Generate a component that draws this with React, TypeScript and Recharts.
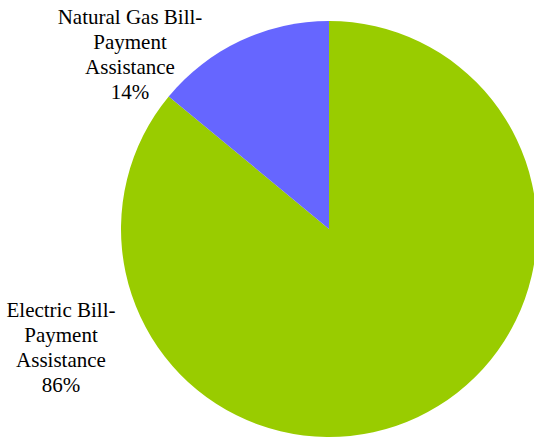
import { Cell, Pie, PieChart } from "recharts"

const categories = ["Electric Bill-Payment Assistance", "Natural Gas Bill-Payment Assistance"]
const values = [86, 14]
const labelLines = [
  ["Electric Bill-", "Payment", "Assistance", "86%"],
  ["Natural Gas Bill-", "Payment", "Assistance", "14%"],
]
const colors = ["#99CC00", "#6666FF"]

// label block centre (mean baseline), relative to the pie centre
const labelOffsets = [
  { dx: -268, dy: 125 },
  { dx: -199, dy: -168 },
]

const data = categories.map((name, i) => ({ name, value: values[i] }))

const LINE_H = 25
const SERIF = "Liberation Serif"

function renderLabel(props: any) {
  const { cx, cy, index } = props
  const lines = labelLines[index]
  const off = labelOffsets[index]
  const x = cx + off.dx
  const top = cy + off.dy - ((lines.length - 1) * LINE_H) / 2
  return (
    <g>
      {lines.map((line, i) => (
        <text
          key={i}
          x={x}
          y={top + i * LINE_H}
          textAnchor="middle"
          fill="#000"
          fontFamily={SERIF}
          fontSize={21}
        >
          {line}
        </text>
      ))}
    </g>
  )
}

export default function App() {
  return (
    <div style={{ position: "absolute", left: 0, top: 0, width: 534, height: 440, background: "#fff" }}>
      <PieChart width={534} height={440} margin={{ top: 0, right: 0, bottom: 0, left: 0 }}>
        <Pie
          data={data}
          dataKey="value"
          nameKey="name"
          cx={329}
          cy={229}
          outerRadius={208}
          startAngle={90}
          endAngle={-270}
          stroke="none"
          label={renderLabel}
          labelLine={false}
          isAnimationActive={false}
        >
          {data.map((d, i) => (
            <Cell key={d.name} fill={colors[i]} />
          ))}
        </Pie>
      </PieChart>
    </div>
  )
}
